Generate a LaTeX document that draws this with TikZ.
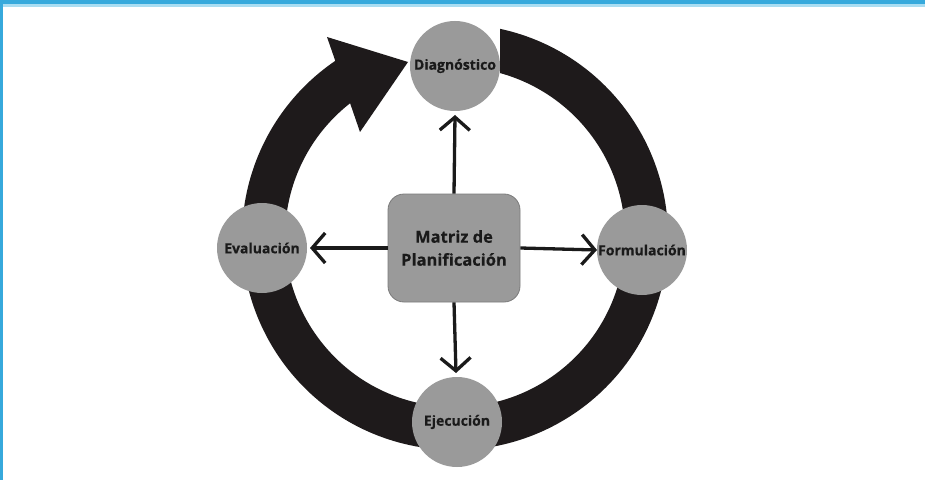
\documentclass[tikz,border=0pt]{standalone}
\usepackage{fontspec}
\setmainfont{Open Sans}[BoldFeatures={FakeBold=0.4}]
\usetikzlibrary{arrows.meta,calc}
\definecolor{frameblue}{HTML}{36A9DC}
\definecolor{framelight}{HTML}{A9DDF2}
\definecolor{bandblack}{HTML}{1E1A1B}
\definecolor{stagegray}{HTML}{9A9A9A}
\definecolor{inkdark}{HTML}{1A1A1A}
\begin{document}
\begin{tikzpicture}[x=1pt,y=1pt,
  stage/.style={circle,fill=stagegray,minimum size=90pt,inner sep=0pt,
    font=\bfseries\fontsize{14}{16}\selectfont,text=inkdark},
  matrixbox/.style={rounded corners=16pt,fill=stagegray,draw=stagegray!80!black,
    line width=0.8pt,minimum width=132pt,minimum height=108pt,align=center,
    font=\bfseries\fontsize{16.5}{23}\selectfont,text=inkdark},
  spoke/.style={line width=3.3pt,draw=inkdark,
    -{Straight Barb[length=13pt,width=30pt,line width=3.3pt]}},
  band/.style={fill=bandblack}]
  % page and frame
  \useasboundingbox (0,0) rectangle (925,480);
  \fill[white] (0,0) rectangle (925,480);
  \fill[framelight] (0,473) rectangle (925,476);
  \fill[frameblue] (0,476) rectangle (925,480);
  \fill[frameblue] (0,0) rectangle (3,480);

  % cycle band with arrowhead
  \coordinate (c) at (455,243);
  \coordinate (wingout) at (327,443);
  \coordinate (tip) at (408,418);
  \coordinate (wingin) at (360,348);
  \fill[band] ($(c)+(77.8:213)$) arc[start angle=77.8,end angle=-235.8,radius=213]
    -- (wingout) -- (tip) -- (wingin)
    -- ($(c)+(128.1:170)$) arc[start angle=-231.9,end angle=74.6,radius=170] -- cycle;

  % stages
  \node[stage] (diag) at (455,414) {Diagnóstico};
  \node[stage] (form) at (642,230) {Formulación};
  \node[stage] (ejec) at (457,58) {Ejecución};
  \node[stage] (eval) at (262,232) {Evaluación};

  % central matrix
  \node[matrixbox] (mat) at (454,232) {Matriz de\\Planificación};

  % spokes
  \coordinate (upend) at (455,365);
  \coordinate (leftend) at (310,232);
  \coordinate (rightend) at (597,230);
  \coordinate (downend) at (456,107);
  \draw[spoke] (mat.north) -- (upend);
  \draw[spoke] (mat.west) -- (leftend);
  \draw[spoke] (mat.east) -- (rightend);
  \draw[spoke] (mat.south) -- (downend);
\end{tikzpicture}
\end{document}
